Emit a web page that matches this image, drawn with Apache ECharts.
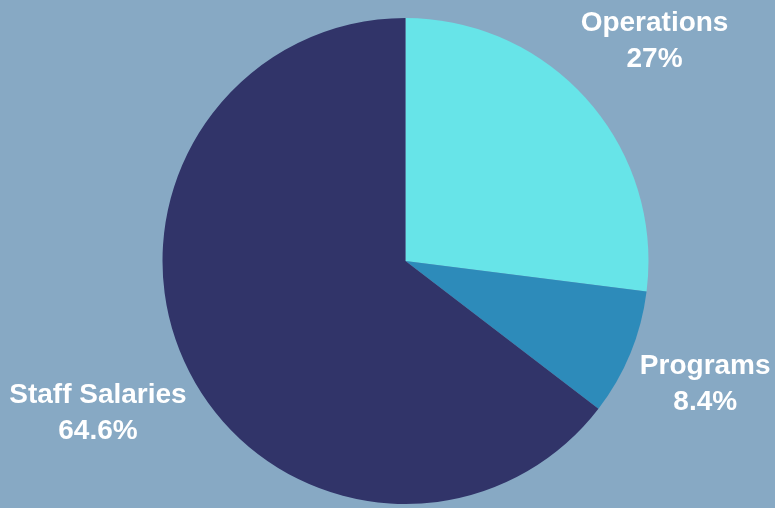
<!DOCTYPE html>
<html>
<head>
<meta charset="utf-8">
<script src="https://cdn.jsdelivr.net/npm/echarts@6/dist/echarts.min.js"></script>
<style>
html,body{margin:0;padding:0;background:#87a9c4;}
#chart{width:775px;height:508px;}
</style>
</head>
<body>
<div id="chart"></div>
<script>
const categories = ['Operations', 'Programs', 'Staff Salaries'];
const values = [27, 8.4, 64.6];
const colors = ['#67e4e8', '#2d8bba', '#313469'];

const center = [405.5, 261];
const radius = 243;
const labelDist = [332, 324, 343];

const total = values.reduce((a, b) => a + b, 0);
const midAngles = [];
let acc = 0;
values.forEach(v => { midAngles.push((acc + v / 2) / total * 2 * Math.PI); acc += v; });

const chart = echarts.init(document.getElementById('chart'));
chart.setOption({
  backgroundColor: '#87a9c4',
  animation: false,
  series: [{
    type: 'pie',
    center: center,
    radius: radius,
    startAngle: 90,
    clockwise: true,
    data: categories.map((c, i) => ({ name: c, value: values[i], itemStyle: { color: colors[i] } })),
    label: {
      show: true,
      position: 'outside',
      formatter: p => p.name + '\n' + values[p.dataIndex] + '%',
      color: '#ffffff',
      fontFamily: 'Liberation Sans, Arial, sans-serif',
      fontWeight: 'bold',
      fontSize: 28,
      lineHeight: 36,
      align: 'center',
      overflow: 'none',
      width: 300
    },
    labelLine: { show: false },
    labelLayout: function (params) {
      const i = params.dataIndex;
      const a = midAngles[i];
      const d = labelDist[i];
      return {
        x: center[0] + d * Math.sin(a),
        y: center[1] - d * Math.cos(a),
        align: 'center',
        verticalAlign: 'middle'
      };
    },
    emphasis: { disabled: true }
  }]
});
</script>
</body>
</html>
